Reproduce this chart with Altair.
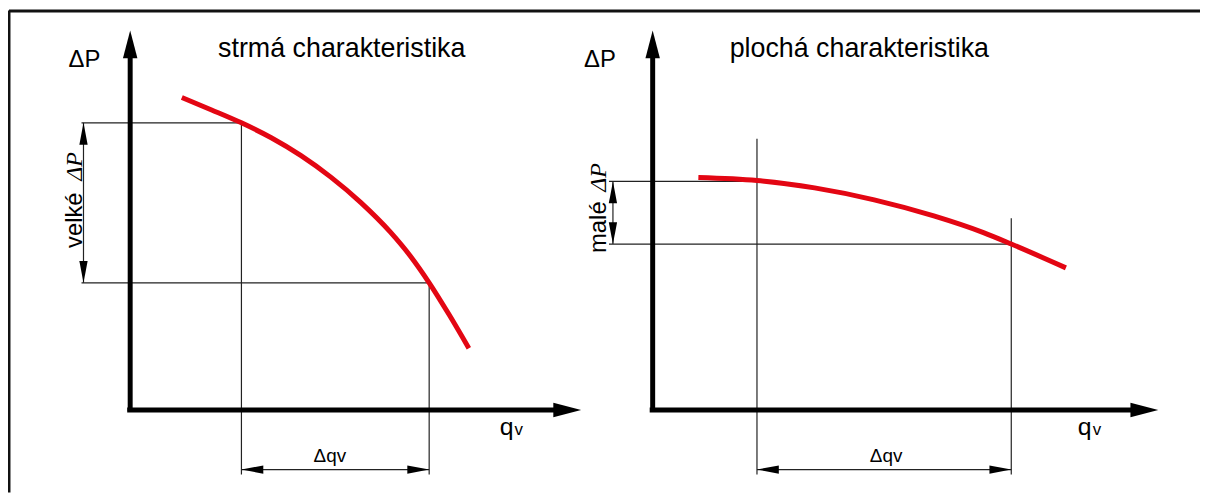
import altair as alt
import pandas as pd

# ---- diagram data (page-pixel coordinate system of the schematic) ----
# red characteristic curves
steep_q = [183, 213, 243, 273, 303, 333, 363, 393, 413, 432, 452, 472]
steep_p = [96.5, 109, 122, 137, 155, 176.6, 202, 232, 256, 283, 315, 349]
flat_q = [703, 762, 820, 880, 940, 990, 1018, 1073]
flat_p = [177, 180, 187.5, 199.5, 215.7, 232.5, 244, 268]

# thick axes (segments)
axis_x1 = [131, 128, 657, 654]
axis_y1 = [412, 411, 412, 411]
axis_x2 = [131, 572, 657, 1152]
axis_y2 = [45, 411, 45, 411]

# thin helper / dimension lines
thin_x1 = [82, 82, 243, 432, 84, 243, 613, 613, 762, 1018, 617, 762]
thin_y1 = [122, 283, 122, 283, 122, 471, 181, 244, 138, 218, 181, 471]
thin_x2 = [243, 432, 243, 432, 84, 432, 762, 1018, 762, 1018, 617, 1018]
thin_y2 = [122, 283, 476, 476, 283, 471, 181, 244, 476, 476, 244, 471]

# frame
frame_x1 = [9, 9]
frame_y1 = [9.5, 9]
frame_x2 = [1208, 9]
frame_y2 = [9.5, 494]

# arrowheads
big_x = [131, 585, 657, 1166]
big_y = [29, 411, 29, 411]
big_ang = [270, 0, 270, 0]
small_x = [84, 84, 243, 432, 617, 617, 762, 1018]
small_y = [122, 283, 471, 471, 181, 244, 471, 471]
small_ang = [270, 90, 180, 0, 270, 90, 180, 0]

# texts
titles = ["strmá charakteristika", "plochá charakteristika"]
title_x = [344, 865]
title_y = [56, 56]
dp_labels = ["\u0394P", "\u0394P"]
dp_x = [85, 604]
dp_y = [66, 66]
q_x = [503, 1085]
q_y = [436, 436]
v_x = [518, 1100]
dq_x = [332, 892]
dq_y = [463, 463]
rot_words = ["velké", "malé"]
rot_word_x = [82, 610]
rot_word_y = [220, 227]
rot_sym_x = [82, 610]
rot_sym_y = [166, 177]

XS = alt.Scale(domain=[8, 1208])
YS = alt.Scale(domain=[494, 8])


def seg_df(x1, y1, x2, y2):
    return pd.DataFrame({"x": x1, "y": y1, "x2": x2, "y2": y2})


def rules(df, width, color):
    return alt.Chart(df).mark_rule(strokeWidth=width, color=color, strokeCap="butt").encode(
        x=alt.X("x:Q", scale=XS, axis=None),
        y=alt.Y("y:Q", scale=YS, axis=None),
        x2="x2:Q",
        y2="y2:Q",
    )


frame = rules(seg_df(frame_x1, frame_y1, frame_x2, frame_y2), 3, "#111")
thin = rules(seg_df(thin_x1, thin_y1, thin_x2, thin_y2), 1.2, "#222")
axes = rules(seg_df(axis_x1, axis_y1, axis_x2, axis_y2), 5, "#000")

curve_df = pd.DataFrame({
    "q": steep_q + flat_q,
    "p": steep_p + flat_p,
    "k": ["steep"] * len(steep_q) + ["flat"] * len(flat_q),
})
curves = alt.Chart(curve_df).mark_line(
    color="#e30613", strokeWidth=5, interpolate="monotone", strokeCap="butt"
).encode(
    x=alt.X("q:Q", scale=XS, axis=None),
    y=alt.Y("p:Q", scale=YS, axis=None),
    detail="k:N",
)


def heads(xs, ys, angs, path, size):
    df = pd.DataFrame({"x": xs, "y": ys, "a": angs})
    return alt.Chart(df).mark_point(
        shape=path, size=size, filled=True, color="#000", opacity=1, strokeWidth=0
    ).encode(
        x=alt.X("x:Q", scale=XS, axis=None),
        y=alt.Y("y:Q", scale=YS, axis=None),
        angle=alt.Angle("a:Q", scale=None),
    )


big_heads = heads(big_x, big_y, big_ang, "M0,0 L-1,-0.26 L-1,0.26 Z", 3136)
small_heads = heads(small_x, small_y, small_ang, "M0,0 L-1,-0.19 L-1,0.19 Z", 1936)


def texts(labels, xs, ys, **kw):
    df = pd.DataFrame({"t": labels, "x": xs, "y": ys})
    return alt.Chart(df).mark_text(color="#000", **kw).encode(
        x=alt.X("x:Q", scale=XS, axis=None),
        y=alt.Y("y:Q", scale=YS, axis=None),
        text="t:N",
    )


title_t = texts(titles, title_x, title_y, font="Liberation Sans", fontSize=27,
                align="center", baseline="alphabetic")
dp_t = texts(dp_labels, dp_x, dp_y, font="Liberation Sans", fontSize=24,
             align="center", baseline="alphabetic")
q_t = texts(["q", "q"], q_x, q_y, font="Liberation Sans", fontSize=25,
            align="left", baseline="alphabetic")
v_t = texts(["v", "v"], v_x, q_y, font="Liberation Sans", fontSize=17,
            align="left", baseline="alphabetic")
dq_t = texts(["\u0394qv", "\u0394qv"], dq_x, dq_y, font="Liberation Sans", fontSize=19,
             align="center", baseline="alphabetic")
rw_t = texts(rot_words, rot_word_x, rot_word_y, font="Liberation Sans", fontSize=24,
             align="center", baseline="alphabetic", angle=270)
rs_t = texts(["\u0394P", "\u0394P"], rot_sym_x, rot_sym_y, font="Liberation Serif",
             fontStyle="italic", fontSize=24, align="center", baseline="alphabetic", angle=270)

chart = alt.layer(
    frame, thin, axes, curves, big_heads, small_heads,
    title_t, dp_t, q_t, v_t, dq_t, rw_t, rs_t,
).properties(
    width=1200, height=486, padding=0, autosize=alt.AutoSizeParams(type="none"),
    background="#ffffff",
).configure_view(stroke=None)

chart.save("out.html", embed_options={"renderer": "svg", "actions": False})
